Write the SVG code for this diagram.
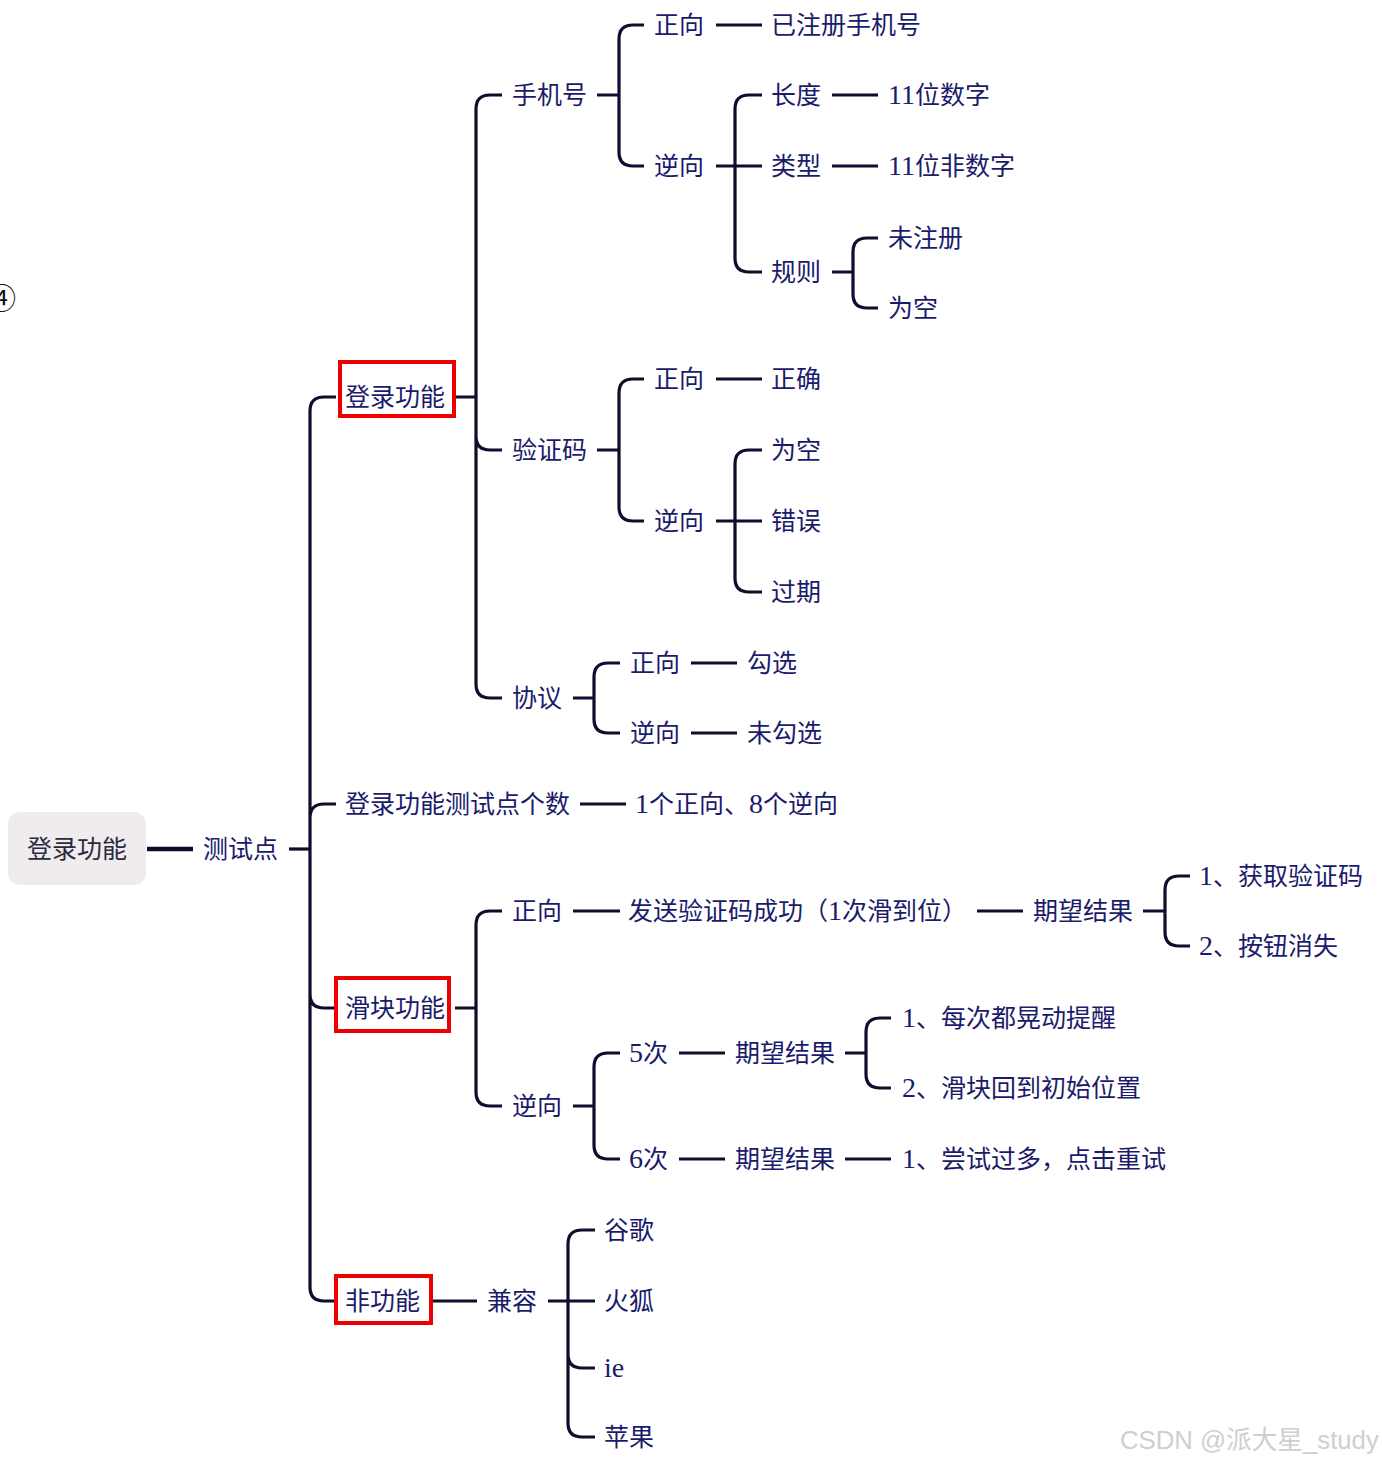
<svg xmlns="http://www.w3.org/2000/svg" width="1382" height="1462" viewBox="0 0 1382 1462">
<style>
.t{font-family:"Liberation Serif","Noto Sans CJK SC",serif;font-size:25px;fill:#1b1b6b}
.d{font-size:28px}
.c{fill:none;stroke:#0d0d2e;stroke-width:3.2}
.box{fill:#fff;stroke:#ee0000;stroke-width:4}
</style>
<rect width="1382" height="1462" fill="#fff"/>
<text x="16" y="309" text-anchor="end" style="font-family:'Noto Sans CJK SC',sans-serif;font-size:28px;fill:#111">④</text>
<g id="connectors">
<path class="c" d="M147,849 H193" style="stroke-width:4.5"/>
<path class="c" d="M289,849 H310"/>
<path class="c" d="M310,849 V411 Q310,397 324,397 H336 M310,849 V818 Q310,804 324,804 H336 M310,849 V994 Q310,1008 324,1008 H334 M310,849 V1287 Q310,1301 324,1301 H334"/>
<path class="c" d="M456,397 H476 M476,397 V109 Q476,95 490,95 H502 M476,397 V436 Q476,450 490,450 H502 M476,397 V684 Q476,698 490,698 H502"/>
<path class="c" d="M597,95 H619 M619,95 V39 Q619,25 633,25 H644 M619,95 V152 Q619,166 633,166 H644"/>
<path class="c" d="M716,25 H762"/>
<path class="c" d="M716,166 H735 M735,166 V109 Q735,95 749,95 H762 M735,166 H762 M735,166 V258 Q735,272 749,272 H762"/>
<path class="c" d="M832,95 H878 M832,166 H878"/>
<path class="c" d="M832,272 H853 M853,272 V252 Q853,238 867,238 H878 M853,272 V294 Q853,308 867,308 H878"/>
<path class="c" d="M597,450 H619 M619,450 V393 Q619,379 633,379 H644 M619,450 V507 Q619,521 633,521 H644"/>
<path class="c" d="M716,379 H762"/>
<path class="c" d="M716,521 H735 M735,521 V464 Q735,450 749,450 H762 M735,521 H762 M735,521 V578 Q735,592 749,592 H762"/>
<path class="c" d="M573,698 H594 M594,698 V677 Q594,663 608,663 H620 M594,698 V719 Q594,733 608,733 H620"/>
<path class="c" d="M691,663 H737 M691,733 H737"/>
<path class="c" d="M580,804 H626"/>
<path class="c" d="M455,1008 H476 M476,1008 V925 Q476,911 490,911 H502 M476,1008 V1092 Q476,1106 490,1106 H502"/>
<path class="c" d="M573,911 H620 M977,911 H1023"/>
<path class="c" d="M1143,911 H1165 M1165,911 V890 Q1165,876 1179,876 H1190 M1165,911 V932 Q1165,946 1179,946 H1190"/>
<path class="c" d="M573,1106 H594 M594,1106 V1067 Q594,1053 608,1053 H620 M594,1106 V1145 Q594,1159 608,1159 H620"/>
<path class="c" d="M679,1053 H725 M845,1053 H866 M866,1053 V1032 Q866,1018 880,1018 H891 M866,1053 V1074 Q866,1088 880,1088 H891"/>
<path class="c" d="M679,1159 H725 M845,1159 H891"/>
<path class="c" d="M432,1301 H477 M548,1301 H568 M568,1301 V1244 Q568,1230 582,1230 H595 M568,1301 H595 M568,1301 V1354 Q568,1368 582,1368 H595 M568,1301 V1423 Q568,1437 582,1437 H595"/>
</g>
<g id="root"><rect x="8" y="812" width="138" height="73" rx="12" fill="#efebef"/><text class="t" x="77" y="858" text-anchor="middle" style="fill:#2b2b3b">登录功能</text></g>
<g id="n-ceshidian"><text class="t" x="203" y="858">测试点</text></g>
<g id="n-denglu"><rect class="box" x="340" y="362" width="114" height="54"/><text class="t" x="345" y="406">登录功能</text></g>
<g id="n-shoujihao"><text class="t" x="512" y="104">手机号</text></g>
<g id="n-sj-zx"><text class="t" x="654" y="34">正向</text></g>
<g id="n-sj-zx-1"><text class="t" x="771" y="34">已注册手机号</text></g>
<g id="n-sj-nx"><text class="t" x="654" y="175">逆向</text></g>
<g id="n-cd"><text class="t" x="771" y="104">长度</text></g>
<g id="n-cd-1"><text class="t" x="888" y="104"><tspan class="d">11</tspan>位数字</text></g>
<g id="n-lx"><text class="t" x="771" y="175">类型</text></g>
<g id="n-lx-1"><text class="t" x="888" y="175"><tspan class="d">11</tspan>位非数字</text></g>
<g id="n-gz"><text class="t" x="771" y="281">规则</text></g>
<g id="n-gz-1"><text class="t" x="888" y="247">未注册</text></g>
<g id="n-gz-2"><text class="t" x="888" y="317">为空</text></g>
<g id="n-yzm"><text class="t" x="512" y="459">验证码</text></g>
<g id="n-yzm-zx"><text class="t" x="654" y="388">正向</text></g>
<g id="n-yzm-zx-1"><text class="t" x="771" y="388">正确</text></g>
<g id="n-yzm-nx"><text class="t" x="654" y="530">逆向</text></g>
<g id="n-yzm-nx-1"><text class="t" x="771" y="459">为空</text></g>
<g id="n-yzm-nx-2"><text class="t" x="771" y="530">错误</text></g>
<g id="n-yzm-nx-3"><text class="t" x="771" y="601">过期</text></g>
<g id="n-xy"><text class="t" x="512" y="707">协议</text></g>
<g id="n-xy-zx"><text class="t" x="630" y="672">正向</text></g>
<g id="n-xy-zx-1"><text class="t" x="747" y="672">勾选</text></g>
<g id="n-xy-nx"><text class="t" x="630" y="742">逆向</text></g>
<g id="n-xy-nx-1"><text class="t" x="747" y="742">未勾选</text></g>
<g id="n-gs"><text class="t" x="345" y="813">登录功能测试点个数</text></g>
<g id="n-gs-1"><text class="t" x="635" y="813"><tspan class="d">1</tspan>个正向、<tspan class="d">8</tspan>个逆向</text></g>
<g id="n-hk"><rect class="box" x="336" y="978" width="113" height="53"/><text class="t" x="345" y="1017">滑块功能</text></g>
<g id="n-hk-zx"><text class="t" x="512" y="920">正向</text></g>
<g id="n-hk-zx-1"><text class="t" x="628" y="920">发送验证码成功（<tspan class="d">1</tspan>次滑到位）</text></g>
<g id="n-hk-zx-2"><text class="t" x="1033" y="920">期望结果</text></g>
<g id="n-hk-zx-3"><text class="t" x="1199" y="885"><tspan class="d">1</tspan>、获取验证码</text></g>
<g id="n-hk-zx-4"><text class="t" x="1199" y="955"><tspan class="d">2</tspan>、按钮消失</text></g>
<g id="n-hk-nx"><text class="t" x="512" y="1115">逆向</text></g>
<g id="n-5c"><text class="t" x="629" y="1062"><tspan class="d">5</tspan>次</text></g>
<g id="n-5c-1"><text class="t" x="735" y="1062">期望结果</text></g>
<g id="n-5c-2"><text class="t" x="902" y="1027"><tspan class="d">1</tspan>、每次都晃动提醒</text></g>
<g id="n-5c-3"><text class="t" x="902" y="1097"><tspan class="d">2</tspan>、滑块回到初始位置</text></g>
<g id="n-6c"><text class="t" x="629" y="1168"><tspan class="d">6</tspan>次</text></g>
<g id="n-6c-1"><text class="t" x="735" y="1168">期望结果</text></g>
<g id="n-6c-2"><text class="t" x="902" y="1168"><tspan class="d">1</tspan>、尝试过多，点击重试</text></g>
<g id="n-fgn"><rect class="box" x="336" y="1276" width="95" height="47"/><text class="t" x="345" y="1310">非功能</text></g>
<g id="n-jr"><text class="t" x="487" y="1310">兼容</text></g>
<g id="n-jr-1"><text class="t" x="604" y="1239">谷歌</text></g>
<g id="n-jr-2"><text class="t" x="604" y="1310">火狐</text></g>
<g id="n-jr-3"><text class="t" x="604" y="1377"><tspan class="d">ie</tspan></text></g>
<g id="n-jr-4"><text class="t" x="604" y="1446">苹果</text></g>
<text x="1120" y="1449" style="font-family:'Liberation Sans','Noto Sans CJK SC',sans-serif;font-size:25.7px;fill:#cfcfcf">CSDN @派大星_study</text>
</svg>
